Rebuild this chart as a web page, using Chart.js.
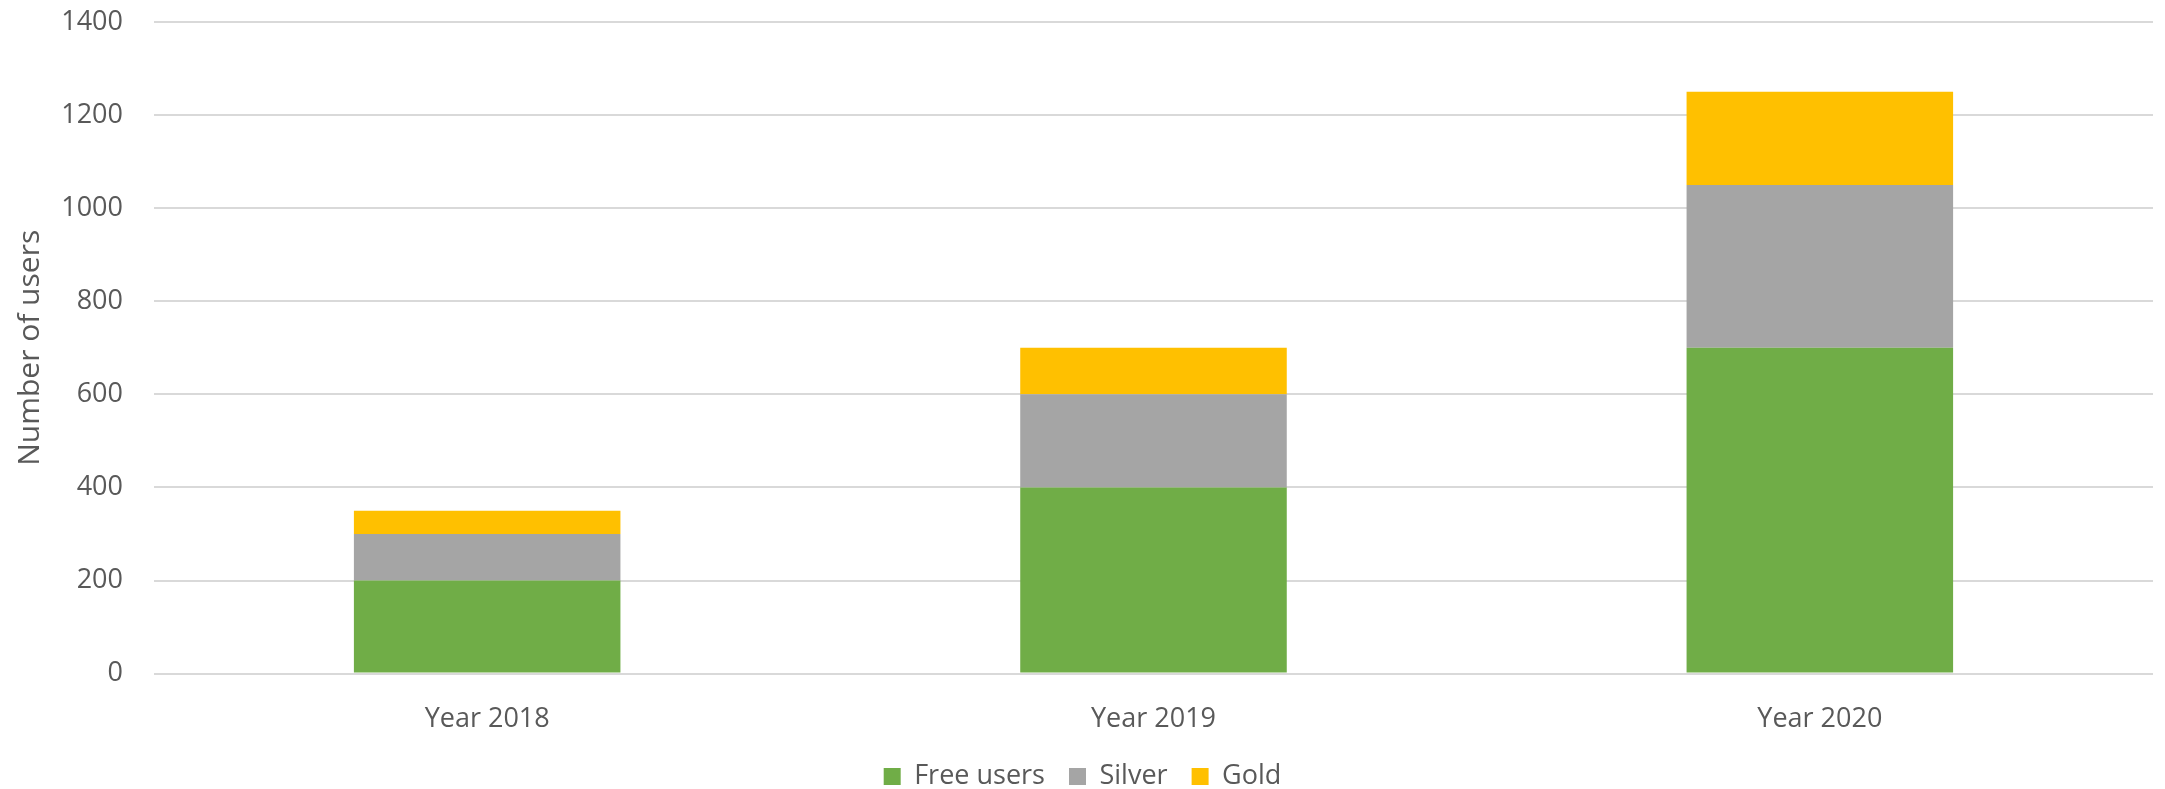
<!DOCTYPE html>
<html>
<head>
<meta charset="utf-8">
<script src="https://cdn.jsdelivr.net/npm/chart.js@4"></script>
<style>
  html, body { margin: 0; padding: 0; background: #fff; }
  #wrap { width: 2165px; height: 789px; position: relative; }
</style>
</head>
<body>
<div id="wrap"><canvas id="usersChart"></canvas></div>
<script>
const categories = ['Year 2018', 'Year 2019', 'Year 2020'];
const freeUsers = [200, 400, 700];
const silverUsers = [100, 200, 350];
const goldUsers = [50, 100, 200];
const yTicks = [0, 200, 400, 600, 800, 1000, 1200, 1400];

document.addEventListener("DOMContentLoaded", () => {

    const ctx = document.getElementById('usersChart');
    if (!ctx) return;

    const textColor = '#595959';
    const font = 'Open Sans';

    new Chart(ctx, {
        type: 'bar',
        data: {
            labels: categories,
            datasets: [
                { label: 'Free users', data: freeUsers, backgroundColor: '#70ad47' },
                { label: 'Silver', data: silverUsers, backgroundColor: '#a5a5a5' },
                { label: 'Gold', data: goldUsers, backgroundColor: '#ffc000' }
            ]
        },
        options: {
            responsive: true,
            maintainAspectRatio: false,
            animation: false,
            layout: { padding: { top: 0, right: 0, left: 0, bottom: -11 } },
            datasets: {
                bar: { categoryPercentage: 1, barPercentage: 0.4 }
            },
            scales: {
                x: {
                    stacked: true,
                    grid: { display: false },
                    border: { display: false },
                    ticks: { color: textColor, font: { family: font, size: 27 }, padding: 22 },
                    afterFit: (scale) => { scale.height -= 19; }
                },
                y: {
                    stacked: true,
                    min: 0,
                    max: 1400,
                    afterBuildTicks: (axis) => { axis.ticks = yTicks.map(v => ({ value: v })); },
                    afterFit: (scale) => {
                        scale.width = 154;
                        scale.paddingTop = 22;
                    },
                    grid: { color: '#d9d9d9', lineWidth: 2, drawTicks: false },
                    border: { display: false },
                    ticks: {
                        color: textColor,
                        font: { family: font, size: 27 },
                        padding: 31,
                        callback: (v) => String(v)
                    },
                    title: {
                        display: true,
                        text: 'Number of users',
                        color: textColor,
                        font: { family: font, size: 30 },
                        padding: { top: 12, bottom: 0 }
                    }
                },
                // empty right margin so the legend stays centred on the page
                yRight: {
                    position: 'right',
                    grid: { display: false },
                    border: { display: false },
                    ticks: { display: false },
                    afterFit: (scale) => { scale.width = 12; }
                }
            },
            plugins: {
                legend: {
                    position: 'bottom',
                    labels: {
                        color: textColor,
                        font: { family: font, size: 27 },
                        boxWidth: 17,
                        boxHeight: 17,
                        padding: 24
                    }
                },
                tooltip: { enabled: false }
            }
        }
    });
});
</script>
</body>
</html>
